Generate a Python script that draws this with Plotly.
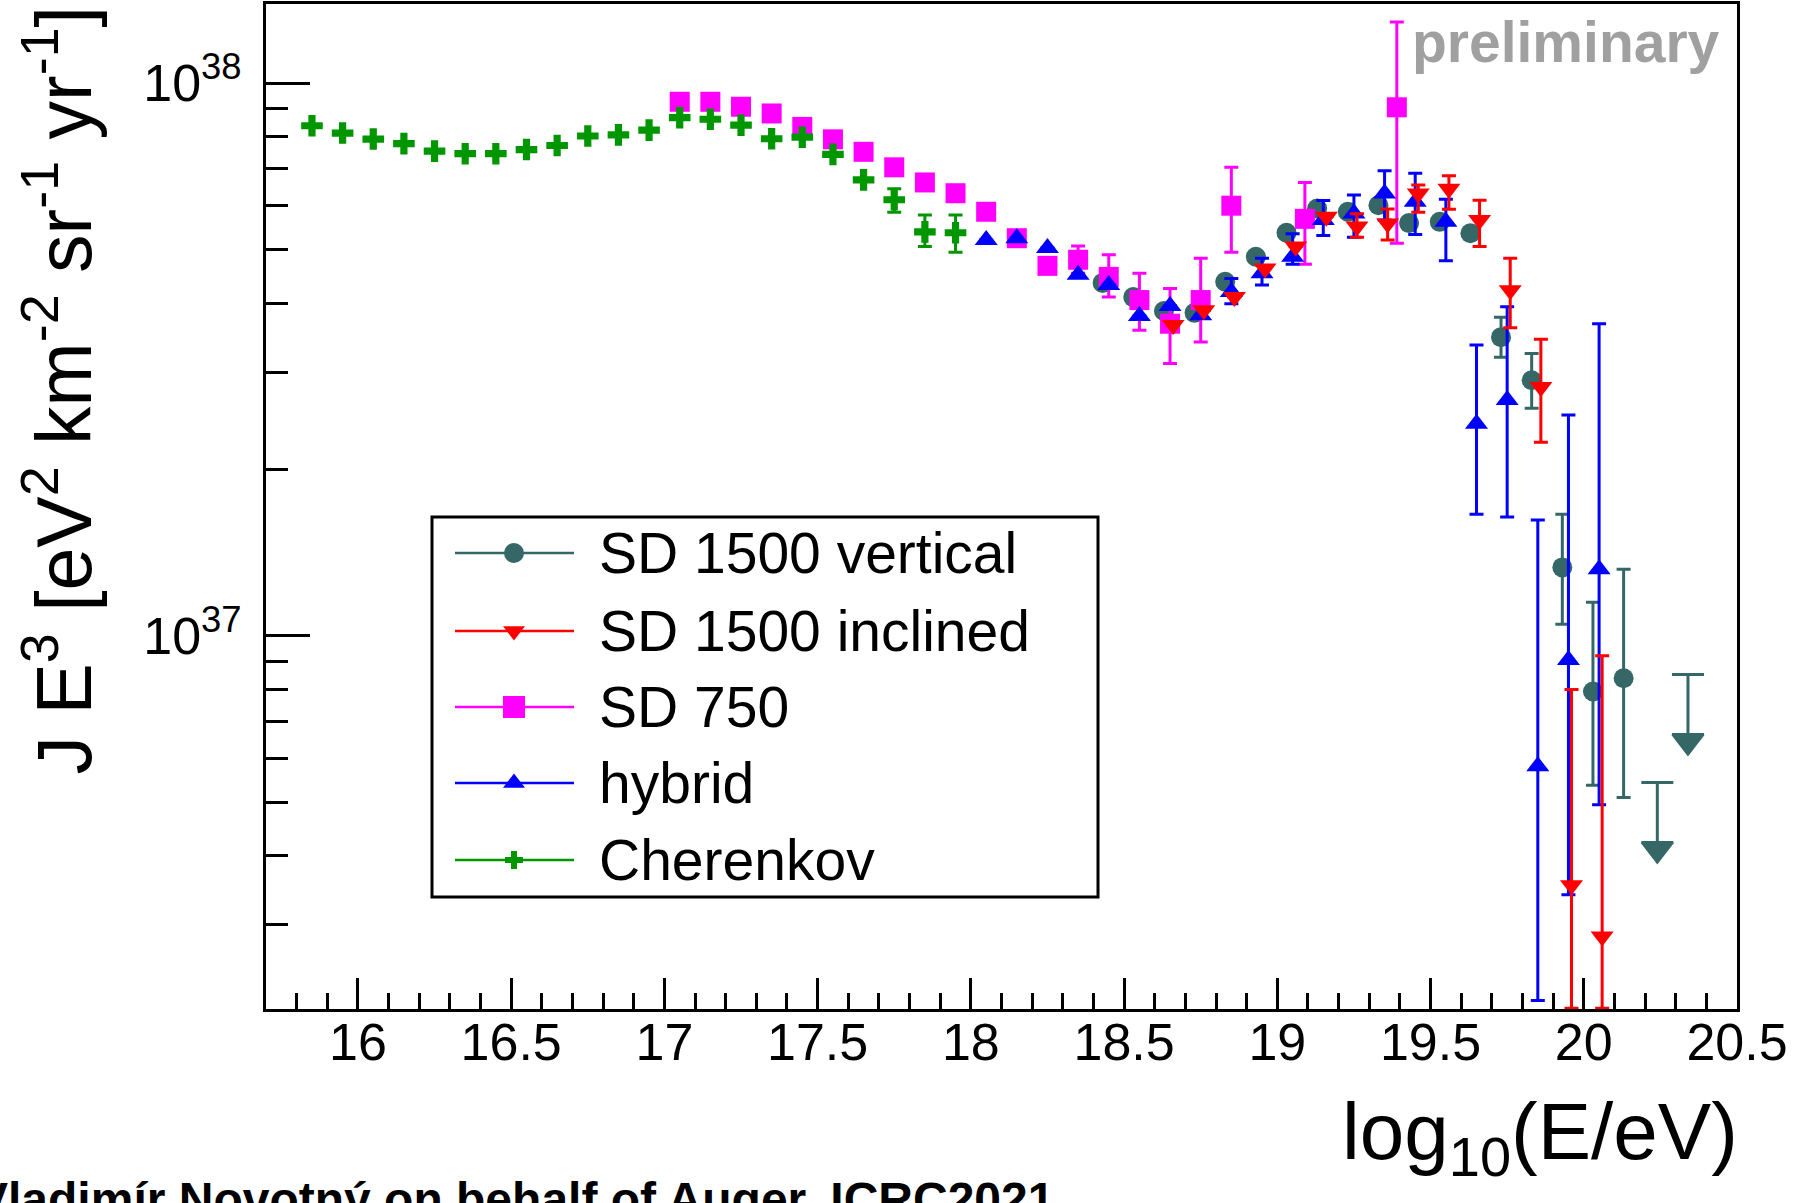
import plotly.graph_objects as go

# ---------------- data (J E^3 in units of 1e37 eV^2 km^-2 sr^-1 yr^-1) ----------------
E37 = 1e37

cher_x = [15.85, 15.95, 16.05, 16.15, 16.25, 16.35, 16.45, 16.55, 16.65, 16.75, 16.85,
          16.95, 17.05, 17.15, 17.25, 17.35, 17.45, 17.55, 17.65, 17.75, 17.85, 17.95]
cher_y = [8.37, 8.12, 7.92, 7.77, 7.53, 7.45, 7.45, 7.58, 7.71, 8.02, 8.06,
          8.22, 8.66, 8.60, 8.39, 7.93, 7.98, 7.43, 6.68, 6.15, 5.38, 5.36]
cher_ep = [0, 0, 0, 0, 0, 0, 0, 0, 0, 0, 0, 0, 0, 0, 0, 0, 0, 0, 0, 0.29, 0.39, 0.41]
cher_em = [0, 0, 0, 0, 0, 0, 0, 0, 0, 0, 0, 0, 0, 0, 0, 0, 0, 0, 0, 0.31, 0.32, 0.42]

sd750_x = [17.05, 17.15, 17.25, 17.35, 17.45, 17.55, 17.65, 17.75, 17.85, 17.95, 18.05,
           18.15, 18.25, 18.35, 18.45, 18.55, 18.65, 18.75, 18.85, 19.09, 19.39]
sd750_y = [9.25, 9.25, 9.06, 8.81, 8.33, 7.91, 7.51, 7.04, 6.61, 6.32, 5.85,
           5.24, 4.67, 4.79, 4.46, 4.05, 3.67, 4.05, 6.00, 5.68, 9.04]
sd750_ep = [0, 0, 0, 0, 0, 0, 0, 0, 0, 0, 0, 0, 0, 0.28, 0.43, 0.48, 0.58, 0.77, 1.04, 0.93, 3.86]
sd750_em = [0, 0, 0, 0, 0, 0, 0, 0, 0, 0, 0, 0, 0, 0.26, 0.36, 0.48, 0.56, 0.65, 1.06, 0.98, 3.91]

hyb_x = [18.05, 18.15, 18.25, 18.35, 18.45, 18.55, 18.65, 18.75, 18.85, 18.95, 19.05,
         19.15, 19.25, 19.35, 19.45, 19.55, 19.65, 19.75, 19.85, 19.95, 20.05]
hyb_y = [5.20, 5.24, 5.03, 4.50, 4.31, 3.79, 3.95, 3.80, 4.19, 4.53, 4.85,
         5.65, 5.81, 6.31, 6.10, 5.61, 2.42, 2.67, 0.581, 0.904, 1.32]
hyb_ep = [0, 0, 0, 0, 0, 0, 0, 0, 0.24, 0.29, 0.49, 0.48, 0.46, 0.63, 0.77, 0.55,
          0.94, 1.27, 1.039, 1.606, 2.35]
hyb_em = [0, 0, 0, 0, 0, 0, 0, 0, 0.20, 0.22, 0.15, 0.35, 0.55, 0.66, 0.78, 0.84,
          0.76, 1.03, 0.362, 0.564, 0.825]

vert_x = [18.43, 18.53, 18.63, 18.73, 18.83, 18.93, 19.03, 19.13, 19.23, 19.33, 19.43,
          19.53, 19.63, 19.73, 19.83, 19.93, 20.03, 20.13]
vert_y = [4.35, 4.10, 3.87, 3.84, 4.37, 4.85, 5.36, 5.93, 5.85, 6.01, 5.58,
          5.61, 5.35, 3.47, 2.90, 1.33, 0.793, 0.838]
vert_ep = [0, 0, 0, 0, 0, 0, 0, 0, 0, 0, 0, 0, 0, 0.30, 0.34, 0.33, 0.357, 0.482]
vert_em = [0, 0, 0, 0, 0, 0, 0, 0, 0, 0, 0, 0, 0, 0.28, 0.32, 0.28, 0.256, 0.328]

# SD 1500 vertical upper limits
ul_x = [20.24, 20.34]
ul_y = [0.543, 0.851]

inc_x = [18.66, 18.76, 18.86, 18.96, 19.06, 19.16, 19.26, 19.36, 19.46, 19.56,
         19.66, 19.76, 19.86, 19.96, 20.06]
inc_y = [3.65, 3.88, 4.10, 4.62, 5.06, 5.73, 5.50, 5.57, 6.31, 6.44,
         5.65, 4.22, 2.82, 0.354, 0.286]
inc_ep = [0, 0, 0, 0, 0, 0, 0.30, 0.35, 0.23, 0.36, 0.49, 0.60, 0.62, 0.446, 0.634]
inc_em = [0, 0, 0, 0, 0, 0, 0.24, 0.37, 0.47, 0.53, 0.59, 0.61, 0.58, 0.142, 0.074]

x_ticks_major = [16, 16.5, 17, 17.5, 18, 18.5, 19, 19.5, 20, 20.5]
y_ticks_major = [1e37, 1e38]
y_tick_text = ["10<sup>37</sup>", "10<sup>38</sup>"]
legend_names = ["SD 1500 vertical", "SD 1500 inclined", "SD 750", "hybrid", "Cherenkov"]

# ---------------- style ----------------
FONT = "Liberation Sans, Arial, Helvetica, sans-serif"
C_VERT = "#356767"
C_INC = "#ff0000"
C_750 = "#ff00ff"
C_HYB = "#0000ff"
C_CHER = "#009600"

W, H = 1800, 1203
PL, PR, PT, PB = 266, 1737, 4, 1009   # plot frame in pixels
PX_PER_DEC = 552.9

def px(x):
    return (x - PL) / (PR - PL)

def py(y):
    return (PB - y) / (PB - PT)

def sc(v):
    return [a * E37 for a in v]

fig = go.Figure()

def add_series(x, y, ep, em, color, symbol, size):
    fig.add_trace(go.Scatter(
        x=x, y=sc(y), mode="markers",
        marker=dict(symbol=symbol, size=size, color=color, line=dict(width=0)),
        error_y=dict(type="data", symmetric=False, array=sc(ep), arrayminus=sc(em),
                     color=color, thickness=3, width=7),
        showlegend=False, hoverinfo="skip"))

add_series(vert_x, vert_y, vert_ep, vert_em, C_VERT, "circle", 20)

# upper-limit arrows (stem + cap via error bar, head via triangle marker)
stem = 60 / PX_PER_DEC
head = 67.5 / PX_PER_DEC
ul_vals = sc(ul_y)
fig.add_trace(go.Scatter(
    x=ul_x, y=ul_vals, mode="markers", marker=dict(size=1, opacity=0),
    error_y=dict(type="data", symmetric=False, array=[0.0 for _ in ul_vals],
                 arrayminus=[v - v * 10 ** (-stem) for v in ul_vals],
                 color=C_VERT, thickness=3, width=16),
    showlegend=False, hoverinfo="skip"))
fig.add_trace(go.Scatter(
    x=ul_x, y=[v * 10 ** (-head) for v in ul_vals], mode="markers",
    marker=dict(symbol="triangle-down", size=29, color=C_VERT, line=dict(width=0)),
    showlegend=False, hoverinfo="skip"))

add_series(sd750_x, sd750_y, sd750_ep, sd750_em, C_750, "square", 20)
add_series(hyb_x, hyb_y, hyb_ep, hyb_em, C_HYB, "triangle-up", 20)
add_series(inc_x, inc_y, inc_ep, inc_em, C_INC, "triangle-down", 20)
add_series(cher_x, cher_y, cher_ep, cher_em, C_CHER, "cross", 18)

# ---------------- custom legend (pixel overlay axes) ----------------
leg_colors = [C_VERT, C_INC, C_750, C_HYB, C_CHER]
leg_symbols = ["circle", "triangle-down", "square", "triangle-up", "cross"]
leg_sizes = [20, 19, 22, 19, 15]
leg_rows = [553, 631, 707, 783, 860]
LEG_X0, LEG_X1, LEG_Y0, LEG_Y1 = 432, 1098, 517, 897
LINE_X0, LINE_X1, MARK_X, TEXT_X = 455, 574, 514, 597

shapes = [dict(type="rect", xref="x2", yref="y2", x0=LEG_X0, x1=LEG_X1, y0=LEG_Y0, y1=LEG_Y1,
               line=dict(color="black", width=3), fillcolor="white", layer="below")]
annotations = []
for name, col, sym, sz, ry in zip(legend_names, leg_colors, leg_symbols, leg_sizes, leg_rows):
    fig.add_trace(go.Scatter(x=[LINE_X0, LINE_X1], y=[ry, ry], mode="lines",
                             line=dict(color=col, width=2.5), xaxis="x2", yaxis="y2",
                             showlegend=False, hoverinfo="skip"))
    fig.add_trace(go.Scatter(x=[MARK_X], y=[ry], mode="markers",
                             marker=dict(symbol=sym, size=sz, color=col, line=dict(width=0)),
                             xaxis="x2", yaxis="y2", showlegend=False, hoverinfo="skip"))
    annotations.append(dict(xref="paper", yref="paper", x=px(TEXT_X), y=py(ry), text=name,
                            showarrow=False, xanchor="left", yanchor="middle",
                            font=dict(family=FONT, size=57, color="black")))

# axis titles and other texts (paper coordinates derived from pixel positions)
annotations.append(dict(xref="paper", yref="paper", x=px(58), y=py(4), textangle=-90,
                        text="J E<sup>3</sup> [eV<sup>2</sup> km<sup>-2</sup> sr<sup>-1</sup> yr<sup>-1</sup>]",
                        showarrow=False, xanchor="center", yanchor="top",
                        font=dict(family=FONT, size=77, color="black")))
annotations.append(dict(xref="paper", yref="paper", x=px(1740), y=py(1138),
                        text="log<sub>10</sub>(E/eV)", showarrow=False,
                        xanchor="right", yanchor="middle",
                        font=dict(family=FONT, size=80, color="black")))
annotations.append(dict(xref="paper", yref="paper", x=px(1722), y=py(8), text="<b>preliminary</b>",
                        showarrow=False, xanchor="right", yanchor="top",
                        font=dict(family=FONT, size=57, color="#a0a0a0")))
annotations.append(dict(xref="paper", yref="paper", x=px(-26), y=py(1171),
                        text="<b>Vladimír Novotný on behalf of Auger, ICRC2021</b>",
                        showarrow=False, xanchor="left", yanchor="top",
                        font=dict(family=FONT, size=48, color="black")))

y_minor = [m * 10.0 ** e for e in (36, 37) for m in range(2, 10)]

fig.update_layout(
    width=W, height=H,
    margin=dict(l=PL, r=W - PR, t=PT, b=H - PB, pad=0),
    paper_bgcolor="white", plot_bgcolor="white",
    showlegend=False,
    font=dict(family=FONT, color="black"),
    xaxis=dict(range=[15.7, 20.5], tickmode="array", tickvals=x_ticks_major,
               ticktext=[("%g" % v) for v in x_ticks_major],
               showgrid=False, zeroline=False,
               showline=True, linecolor="black", linewidth=3, mirror=True,
               ticks="inside", ticklen=31, tickwidth=3, tickcolor="black",
               minor=dict(ticks="inside", dtick=0.1, tick0=15.8, ticklen=16,
                          tickwidth=3, tickcolor="black", showgrid=False),
               tickfont=dict(family=FONT, size=52, color="black"),
               ticklabelstandoff=-14, automargin=False),
    yaxis=dict(type="log", range=[36.325, 38.143], tickmode="array",
               tickvals=y_ticks_major, ticktext=y_tick_text,
               showgrid=False, zeroline=False,
               showline=True, linecolor="black", linewidth=3, mirror=True,
               ticks="inside", ticklen=44, tickwidth=3, tickcolor="black",
               minor=dict(ticks="inside", tickmode="array", tickvals=y_minor, ticklen=22,
                          tickwidth=3, tickcolor="black", showgrid=False),
               tickfont=dict(family=FONT, size=52, color="black"),
               ticklabelstandoff=11, automargin=False),
    xaxis2=dict(overlaying="x", anchor="y2", range=[PL, PR], visible=False, fixedrange=True),
    yaxis2=dict(overlaying="y", anchor="x2", range=[PB, PT], visible=False, fixedrange=True),
    shapes=shapes,
    annotations=annotations,
)

fig.write_html("out.html")
